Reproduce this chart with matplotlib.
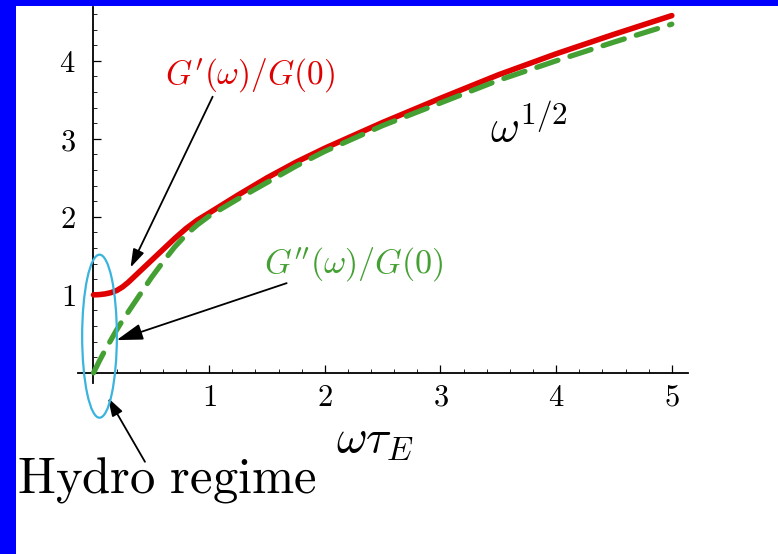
import matplotlib
matplotlib.use('Agg')
import matplotlib.pyplot as plt
from matplotlib.patches import Ellipse, Rectangle
from matplotlib.ticker import MultipleLocator, FixedLocator

plt.rcParams['mathtext.fontset'] = 'cm'

# values
omega = [0, 0.05, 0.1, 0.15, 0.2, 0.25, 0.3, 0.35, 0.4, 0.5, 0.6, 0.7, 0.8, 0.9, 1.0,
         1.25, 1.5, 1.75, 2.0, 2.5, 3.0, 3.5, 4.0, 4.5, 5.0]
g_storage = [1.00, 1.003, 1.012, 1.028, 1.055, 1.10, 1.16, 1.23, 1.30, 1.44, 1.58,
             1.72, 1.85, 1.96, 2.05,
             2.28, 2.50, 2.70, 2.88, 3.21, 3.52, 3.82, 4.09, 4.34, 4.58]
g_loss = [0.00, 0.15, 0.29, 0.42, 0.55, 0.67, 0.78, 0.89, 1.00, 1.22, 1.42,
          1.61, 1.77, 1.90, 2.01,
          2.23, 2.44, 2.65, 2.84, 3.17, 3.46, 3.75, 4.00, 4.24, 4.47]
xticks = [1, 2, 3, 4, 5]
yticks = [1, 2, 3, 4]

RED = '#e00000'
GREEN = '#44a032'
CYAN = '#3ab4de'
BLUE = '#0000ff'

fig = plt.figure(figsize=(7.78, 5.54), dpi=100, facecolor='white')
# blue slide frame on top and left
fig.patches.append(Rectangle((0, 0), 16 / 778, 1, transform=fig.transFigure,
                             facecolor=BLUE, edgecolor='none', zorder=-10))
fig.patches.append(Rectangle((0, 1 - 6 / 554), 1, 6 / 554, transform=fig.transFigure,
                             facecolor=BLUE, edgecolor='none', zorder=-10))

ax = fig.add_axes([78 / 778, (554 - 383) / 554, 610 / 778, 376 / 554])
ax.patch.set_alpha(0)
ax.set_xlim(-0.134, 5.14)
ax.set_ylim(-0.13, 4.69)

ax.plot(omega, g_storage, color=RED, lw=4.0, solid_capstyle='round',
        solid_joinstyle='round', zorder=3)
ax.plot(omega, g_loss, color=GREEN, lw=3.8, dashes=(4.2, 2.4),
        dash_capstyle='round', zorder=4)

for s in ['top', 'right']:
    ax.spines[s].set_visible(False)
for s in ['left', 'bottom']:
    ax.spines[s].set_position(('data', 0))
    ax.spines[s].set_linewidth(1.3)
ax.xaxis.set_major_locator(FixedLocator(xticks))
ax.yaxis.set_major_locator(FixedLocator(yticks))
ax.xaxis.set_minor_locator(MultipleLocator(0.2))
ax.yaxis.set_minor_locator(MultipleLocator(0.2))
ax.set_xticklabels([f'${t}$' for t in xticks])
ax.set_yticklabels([f'${t}$' for t in yticks])
ax.tick_params(which='major', direction='in', length=6, width=0.9,
               labelsize=22, pad=7)
ax.tick_params(which='minor', direction='in', length=3, width=0.6)
ax.tick_params(axis='y', pad=13)

ax.text(1.35, 3.82, r"$G'(\omega)/G(0)$", color=RED, fontsize=24,
        ha='center', va='center')
ax.text(2.25, 1.38, r"$G''(\omega)/G(0)$", color=GREEN, fontsize=24.5,
        ha='center', va='center')
ax.text(3.76, 3.14, r"$\omega^{1/2}$", color='black', fontsize=32,
        ha='center', va='center')
ax.text(2.43, -0.86, r"$\omega\tau_E$", color='black', fontsize=34,
        ha='center', va='center', clip_on=False)
ax.text(-0.66, -1.37, r"$\mathrm{Hydro\ regime}$", color='black', fontsize=36.5,
        ha='left', va='center', clip_on=False)

ax.add_patch(Ellipse((0.052, 0.47), 0.30, 2.09, fill=False, edgecolor=CYAN,
                     lw=1.6, clip_on=False, zorder=5))

arrow = dict(arrowstyle='-|>,head_length=1.1,head_width=0.35', color='black',
             lw=1.3, shrinkA=0, shrinkB=0)
ax.annotate('', xy=(0.32, 1.35), xytext=(1.03, 3.54), arrowprops=arrow,
            annotation_clip=False)
big = dict(arrow, arrowstyle='-|>,head_length=1.6,head_width=0.5')
ax.annotate('', xy=(0.20, 0.42), xytext=(1.67, 1.15), arrowprops=big,
            annotation_clip=False)
ax.annotate('', xy=(0.125, -0.32), xytext=(0.445, -1.14), arrowprops=arrow,
            annotation_clip=False)

fig.savefig('out.png', dpi=100)
